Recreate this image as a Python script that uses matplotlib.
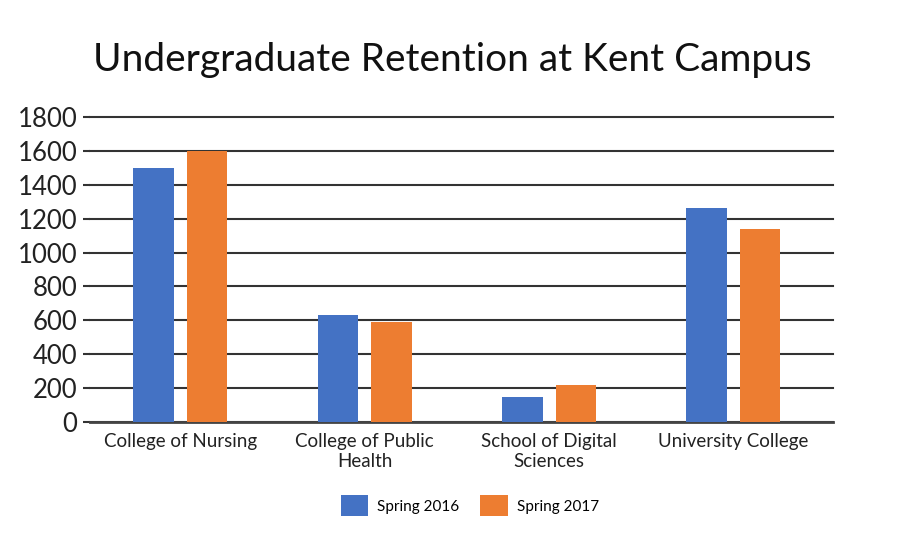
import matplotlib.pyplot as plt
import numpy as np

plt.rcParams['font.family'] = ['Lato', 'DejaVu Sans']

categories = ['College of Nursing', 'College of Public\nHealth',
              'School of Digital\nSciences', 'University College']
spring_2016 = [1500, 630, 145, 1265]
spring_2017 = [1600, 590, 215, 1140]
y_ticks = [0, 200, 400, 600, 800, 1000, 1200, 1400, 1600, 1800]

blue = '#4472C4'
orange = '#ED7D31'

fig = plt.figure(figsize=(9, 5.45), dpi=100)
ax = fig.add_axes([0.1, 0.2262, 0.8256, 0.5586])

x = np.arange(len(categories))
w = 0.22
b1 = ax.bar(x - 0.145, spring_2016, w, color=blue, zorder=3)
b2 = ax.bar(x + 0.145, spring_2017, w, color=orange, zorder=3)

ax.set_xlim(-0.49, 3.54)
ax.set_ylim(0, 1800)
ax.set_yticks(y_ticks)
ax.tick_params(axis='y', labelsize=18.5, length=5, width=1.5, color='#333333', pad=4)
ax.tick_params(axis='x', labelsize=13.5, length=0, pad=8)
ax.set_xticks(x)
ax.set_xticklabels(categories, color='#222222', linespacing=1.2)
for lbl in ax.get_yticklabels():
    lbl.set_color('#222222')

ax.yaxis.grid(True, color='#333333', linewidth=1.5, zorder=0)
for gl in ax.get_ygridlines():
    gl.set_clip_on(False)
for s in ['top', 'right', 'left']:
    ax.spines[s].set_visible(False)
ax.spines['bottom'].set_color('#444444')
ax.spines['bottom'].set_linewidth(2)

fig.text(0.503, 0.89, 'Undergraduate Retention at Kent Campus', ha='center',
         va='center', fontsize=28, color='#111111')

fig.legend([b1, b2], ['Spring 2016', 'Spring 2017'], loc='center',
           bbox_to_anchor=(0.522, 0.072), ncol=2, frameon=False, fontsize=11,
           handlelength=1.77, handleheight=1.77, handletextpad=0.6,
           columnspacing=1.4)

fig.savefig('out.png', dpi=100)
